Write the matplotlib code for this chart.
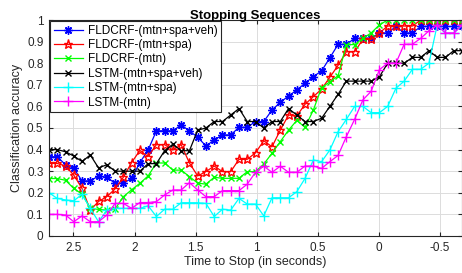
import numpy as np
import matplotlib
matplotlib.use('Agg')
import matplotlib.pyplot as plt

plt.rcParams['font.family'] = ['Liberation Sans', 'DejaVu Sans']
plt.rcParams['axes.unicode_minus'] = False

# time to stop (s), sampled frames from 2.7 s before stop to after stop
t = np.linspace(2.7, -0.68, 51)

fld_all = [0.367, 0.367, 0.33, 0.313, 0.255, 0.255, 0.278, 0.272, 0.244, 0.244,
           0.267, 0.34, 0.398, 0.487, 0.487, 0.487, 0.514, 0.487, 0.457, 0.417,
           0.444, 0.468, 0.468, 0.503, 0.503, 0.53, 0.53, 0.583, 0.619, 0.648,
           0.676, 0.707, 0.738, 0.764, 0.825, 0.887, 0.887, 0.915, 0.915, 0.915,
           0.94, 0.94, 0.97, 0.94, 0.94, 0.97, 0.97, 0.97, 0.97, 0.97, 0.97]
fld_spa = [0.336, 0.336, 0.324, 0.282, 0.22, 0.12, 0.16, 0.182, 0.218, 0.272,
           0.34, 0.396, 0.368, 0.423, 0.423, 0.398, 0.423, 0.338, 0.278, 0.298,
           0.324, 0.298, 0.298, 0.355, 0.355, 0.385, 0.441, 0.413, 0.49, 0.56,
           0.556, 0.61, 0.645, 0.68, 0.735, 0.79, 0.853, 0.853, 0.91, 0.91,
           0.94, 0.972, 0.972, 0.972, 0.972, 1.0, 1.0, 1.0, 1.0, 1.0, 1.0]
fld_mtn = [0.266, 0.266, 0.258, 0.22, 0.194, 0.128, 0.123, 0.12, 0.125, 0.182,
           0.214, 0.244, 0.278, 0.338, 0.338, 0.305, 0.305, 0.275, 0.245, 0.24,
           0.272, 0.267, 0.267, 0.267, 0.298, 0.298, 0.333, 0.383, 0.437, 0.49,
           0.535, 0.503, 0.583, 0.687, 0.714, 0.742, 0.886, 0.886, 0.915, 0.94,
           0.977, 1.0, 1.0, 1.0, 1.0, 1.0, 1.0, 1.0, 1.0, 1.0, 1.0]
lstm_all = [0.40, 0.40, 0.39, 0.37, 0.345, 0.375, 0.315, 0.33, 0.30, 0.30,
            0.30, 0.30, 0.335, 0.335, 0.395, 0.425, 0.395, 0.395, 0.49, 0.50,
            0.53, 0.53, 0.56, 0.59, 0.53, 0.53, 0.50, 0.53, 0.53, 0.59,
            0.56, 0.53, 0.53, 0.545, 0.60, 0.656, 0.717, 0.717, 0.717, 0.717,
            0.737, 0.80, 0.80, 0.80, 0.827, 0.827, 0.858, 0.827, 0.827, 0.858, 0.858]
lstm_spa = [0.20, 0.174, 0.167, 0.163, 0.193, 0.128, 0.066, 0.12, 0.128, 0.128,
            0.128, 0.128, 0.14, 0.09, 0.124, 0.124, 0.154, 0.154, 0.154, 0.151,
            0.09, 0.124, 0.12, 0.174, 0.148, 0.148, 0.093, 0.177, 0.177, 0.177,
            0.205, 0.267, 0.352, 0.344, 0.398, 0.483, 0.54, 0.60, 0.60, 0.571,
            0.571, 0.60, 0.684, 0.717, 0.772, 0.772, 0.80, 0.977, 0.938, 0.938, 0.977]
lstm_mtn = [0.10, 0.10, 0.097, 0.066, 0.093, 0.066, 0.066, 0.097, 0.151, 0.151,
            0.128, 0.155, 0.155, 0.159, 0.19, 0.213, 0.213, 0.247, 0.213, 0.182,
            0.182, 0.21, 0.21, 0.21, 0.24, 0.295, 0.323, 0.295, 0.323, 0.295,
            0.295, 0.324, 0.324, 0.313, 0.344, 0.373, 0.46, 0.54, 0.63, 0.67,
            0.77, 0.80, 0.80, 0.888, 0.888, 0.915, 0.95, 0.975, 0.94, 0.94, 0.975]

labels = ['FLDCRF-(mtn+spa+veh)', 'FLDCRF-(mtn+spa)', 'FLDCRF-(mtn)',
          'LSTM-(mtn+spa+veh)', 'LSTM-(mtn+spa)', 'LSTM-(mtn)']
xticks = [2.5, 2, 1.5, 1, 0.5, 0, -0.5]
xtick_labels = ['2.5', '2', '1.5', '1', '0.5', '0', '-0.5']

series = [fld_all, fld_spa, fld_mtn, lstm_all, lstm_spa, lstm_mtn]
colors = ['#0000ff', '#ff0000', '#00ff00', '#000000', '#00ffff', '#ff00ff']
# matlab style: asterisk, pentagram, x, x, +, +
markers = [(8, 2, 0), '*', 'x', 'x', '+', '+']
msizes = [6, 6.5, 5, 5, 7, 7]

fig = plt.figure(figsize=(4.62, 2.73), dpi=100)
ax = fig.add_axes([49 / 462, 37 / 273, 413 / 462, 216 / 273])

for y, c, m, ms, lab in zip(series, colors, markers, msizes, labels):
    ax.plot(t, y, color=c, marker=m, markersize=ms, linewidth=0.9,
            markeredgewidth=1.0, markerfacecolor='none', label=lab)

ax.set_xlim(2.7, -0.68)
ax.set_ylim(0, 1)
ax.set_xticks(xticks)
ax.set_xticklabels(xtick_labels)
ax.set_yticks(np.round(np.arange(0, 1.01, 0.1), 1))
ax.set_yticklabels(['0', '0.1', '0.2', '0.3', '0.4', '0.5', '0.6', '0.7', '0.8', '0.9', '1'])

ax.grid(True, color='#dcdcdc', linewidth=0.7)
ax.set_axisbelow(True)
ax.tick_params(direction='in', length=3, labelsize=8.5, colors='#262626',
               top=True, right=True, pad=4)
for s in ax.spines.values():
    s.set_color('#262626')
    s.set_linewidth(0.8)

ax.set_xlabel('Time to Stop (in seconds)', fontsize=9, color='#262626', labelpad=2)
ax.set_ylabel('Classification accuracy', fontsize=9, color='#262626', labelpad=3)
ax.set_title('Stopping Sequences', fontsize=9.5, fontweight='bold', pad=1)

leg = ax.legend(loc='upper left', fontsize=8.5, frameon=True, fancybox=False,
                borderaxespad=0.1, handlelength=2.5, handletextpad=0.4,
                labelspacing=0.2, borderpad=0.3)
leg.get_frame().set_edgecolor('#262626')
leg.get_frame().set_linewidth(0.8)
leg.get_frame().set_alpha(1)

fig.savefig('out.png', dpi=100)
